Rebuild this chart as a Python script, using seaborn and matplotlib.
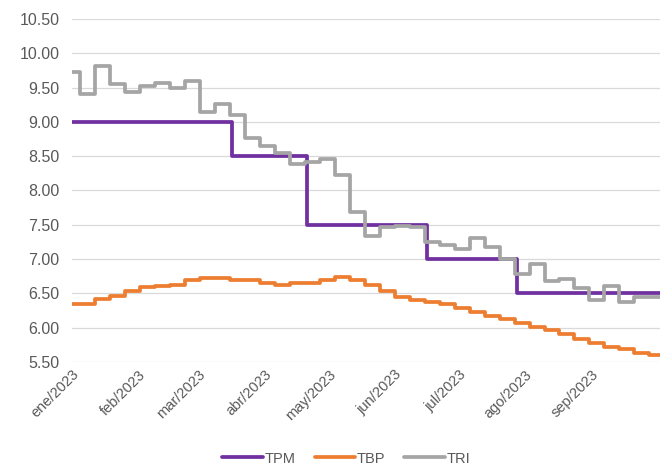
import seaborn as sns
import pandas as pd
import numpy as np
import matplotlib.pyplot as plt

# TPM: step changes (start date, value)
tpm_dates = ["2023-01-01", "2023-03-17", "2023-04-21", "2023-06-16", "2023-07-28", "2023-10-03"]
tpm_values = [9.00, 8.50, 7.50, 7.00, 6.50, 6.50]

# weekly series (first value from Jan 1, then one value per week from Jan 5)
tbp_values = [6.35, 6.35, 6.41, 6.46, 6.53, 6.59, 6.60, 6.62, 6.69, 6.72,
              6.72, 6.69, 6.69, 6.65, 6.62, 6.65, 6.65, 6.69, 6.73, 6.69,
              6.62, 6.53, 6.44, 6.40, 6.37, 6.34, 6.29, 6.22, 6.17, 6.12,
              6.06, 6.01, 5.97, 5.91, 5.84, 5.77, 5.72, 5.68, 5.63, 5.60]
tri_values = [9.72, 9.41, 9.82, 9.55, 9.43, 9.52, 9.56, 9.50, 9.60, 9.14,
              9.26, 9.10, 8.77, 8.64, 8.55, 8.39, 8.41, 8.46, 8.23, 7.68,
              7.33, 7.47, 7.48, 7.47, 7.25, 7.20, 7.15, 7.30, 7.18, 7.00,
              6.78, 6.93, 6.68, 6.71, 6.57, 6.40, 6.61, 6.37, 6.44, 6.44]

month_labels = ["ene/2023", "feb/2023", "mar/2023", "abr/2023", "may/2023",
                "jun/2023", "jul/2023", "ago/2023", "sep/2023"]

end_date = pd.Timestamp("2023-10-03")
weekly_dates = [pd.Timestamp("2023-01-01")] + list(pd.date_range("2023-01-05", periods=len(tbp_values) - 1, freq="7D"))

frames = []
frames.append(pd.DataFrame({"fecha": pd.to_datetime(tpm_dates), "tasa": tpm_values, "serie": "TPM"}))
frames.append(pd.DataFrame({"fecha": weekly_dates + [end_date], "tasa": tbp_values + [tbp_values[-1]], "serie": "TBP"}))
frames.append(pd.DataFrame({"fecha": weekly_dates + [end_date], "tasa": tri_values + [tri_values[-1]], "serie": "TRI"}))
df = pd.concat(frames, ignore_index=True)

sns.set_style("white")
plt.rcParams["font.family"] = ["Liberation Sans", "DejaVu Sans"]

fig = plt.figure(figsize=(6.66, 4.73), dpi=100)
ax = fig.add_axes([0.108, 0.235, 0.883, 0.725])

colors = {"TPM": "#7030A0", "TBP": "#ED7D31", "TRI": "#A5A5A5"}
sns.lineplot(data=df, x="fecha", y="tasa", hue="serie", palette=colors,
             hue_order=["TPM", "TBP", "TRI"], estimator=None,
             drawstyle="steps-post", linewidth=2.7, legend=False, ax=ax)

ax.set_ylim(5.5, 10.5)
ax.set_yticks(np.arange(5.5, 10.51, 0.5))
ax.yaxis.set_major_formatter(plt.FuncFormatter(lambda v, p: f"{v:.2f}"))
ax.set_xlim(pd.Timestamp("2023-01-01"), end_date)
ticks = pd.date_range("2023-01-01", periods=len(month_labels), freq="MS")
ax.set_xticks(ticks)
ax.set_xticklabels(month_labels, rotation=45, ha="right", rotation_mode="anchor")

ax.grid(axis="y", color="#D9D9D9", linewidth=0.9)
ax.grid(axis="x", visible=False)
for s in ax.spines.values():
    s.set_visible(False)
ax.tick_params(axis="y", colors="#595959", labelsize=11.5, length=0, pad=9)
ax.tick_params(axis="x", colors="#595959", labelsize=10.5, length=0, pad=4)
ax.set_xlabel("")
ax.set_ylabel("")

handles = ax.get_lines()[:3]
fig.legend(handles, ["TPM", "TBP", "TRI"], loc="lower center", bbox_to_anchor=(0.52, -0.012),
           ncol=3, frameon=False, fontsize=10.5, handlelength=2.8, columnspacing=1.3,
           handletextpad=0.1, labelcolor="#595959")

fig.savefig("out.png", dpi=100)
